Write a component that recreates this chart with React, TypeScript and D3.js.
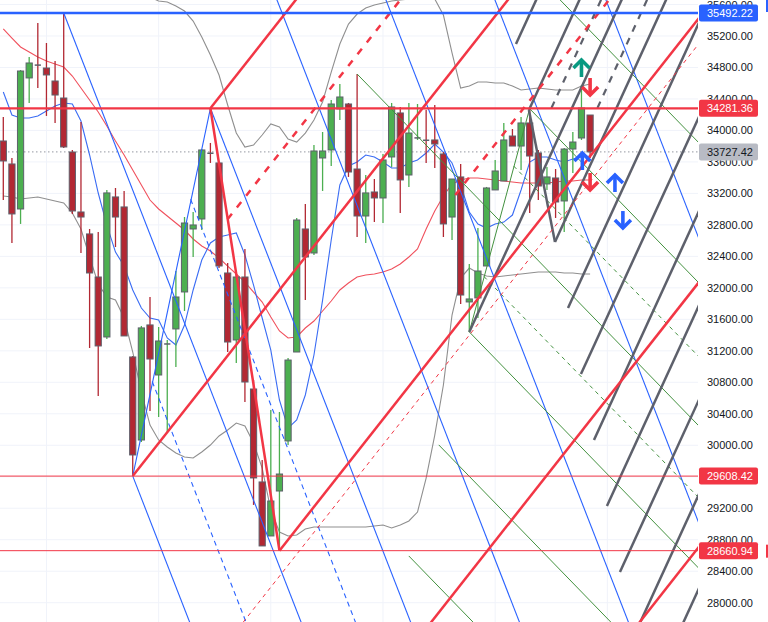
import React from 'react';
import * as d3 from 'd3';

// ---------- candle data (bar index 0..68) ----------
const opens = [33866,33574,33002,34667,34830,34793,34628,34412,33726,32964,32685,32138,31376,33155,33028,31122,30067,31529,30893,31280,31478,31948,32748,32875,33710,33587,32189,31338,32138,30715,29534,28848,29419,30055,31185,32748,32443,33650,33752,34273,34336,33510,32913,33218,33142,33663,34222,33434,33895,33875,33879,33701,32900,33409,31821,31872,32278,33244,33358,33929,33802,34095,33714,33320,33396,33104,33764,33904,34196];
const highs = [34171,33650,34768,34933,35365,35111,34882,35492.22,33752,34107,32748,32710,33244,33269,33231,31135,31516,31884,31503,31338,32214,32900,32964,33765,33841,33600,32316,32227,32494,30830,29813,30448,30423,31109,32888,33066,33815,33980,34387,34590,34349,34717,33434,33383,33701,34349,34298,34349,34336,34260,34323,33726,33383,33574,32303,32761,33282,33625,34095,34018,34171,34273,33752,33536,33510,33777,33980,34578,34196];
const lows = [33117,32570,32812,34349,34539,34184,34095,33777,32939,32443,31236,30626,31351,32519,31389,29608.42,30042,30436,30359,30156,30995,31706,32392,32736,33587,32253,31185,31045,30550,29242,28721,28848,28660.94,30004,31185,31846,32418,33231,33549,34133,33409,32646,32570,32837,32824,33536,32951,33282,33879,33587,33523,32646,32608,31795,31440,31617,32278,33244,33358,33802,33498,32951,33117,33244,32888,32710,33460,33879,33650];
const closes = [33612,32939,34755,34857,34810,34705,34450,33790,32977,32900,32189,31262,33206,32900,31389,29877,31491,31096,31325,31287,31884,32824,32799,33752,33695,32278,31312,32138,30804,29585,28721,29292,29635,31083,32862,32392,33739,33739,34336,34425,33472,32913,33206,33142,33625,34298,33371,33967,33905,33860,33828,32812,33383,31909,31859,32214,33269,33485,33879,33802,34095,33675,33294,33409,33091,33764,33853,34285,33727.42];

// ---------- indicators ----------
const redMA = [35289,35174,35060,34996,34933,34882,34844,34806,34691,34539,34387,34234,34056,33866,33688,33497,33307,33116,33002,32913,32824,32735,32621,32532,32468,32379,32277,32176,32074,31947,31820,31630,31452,31363,31376,31490,31579,31706,31833,31973,32061,32138,32163,32176,32201,32239,32303,32392,32494,32748,32976,33167,33320,33370,33396,33396,33383,33370,33357,33345,33332,33332,33332,33332,33345,33357,33357,33370,33370];
const blueMA = [34488,34196,34158,34158,34183,34247,34310,34348,34336,34120,33688,33205,32798,32455,32277,31973,31744,31617,31591,31363,31274,31528,31973,32354,32570,32646,32671,32697,32417,32036,31617,31210,30575,30219,30321,30639,31147,31845,32608,33307,33548,33599,33688,33662,33599,33523,33523,33586,33624,33713,33827,33726,33586,33307,32964,32811,32760,32811,32836,32925,33243,33599,33662,33662,33624,33599,33637,33662,33675];
const bandUpper = [36419,36356,36292,36229,36165,36140,36114,36089,36064,36038,36013,35975,35937,35886,35835,35784,35733,35695,35644,35632,35581,35517,35390,35187,34958,34704,34323,33967,33789,33815,33942,34082,34044,33891,33853,33967,34132,34361,34742,35098,35352,35479,35555,35593,35619,35644,35657,35670,35682,35682,35670,35466,34984,34539,34564,34615,34615,34603,34603,34564,34514,34526,34539,34526,34514,34514,34514,34564,34590];
const bandLower = [33167,33154,33129,33141,33154,33129,33103,33078,32951,32748,32392,32049,31884,31845,31617,31185,30677,30257,30067,29978,29902,29851,29838,29914,30003,30118,30194,30283,30245,30029,29711,29177,28898,28847,28860,28936,28962,28962,28962,28962,28962,28962,28962,28975,28987,28949,28987,29038,29152,29584,30130,30766,31655,32125,32252,32189,32150,32138,32150,32163,32176,32189,32201,32201,32201,32189,32189,32176,32176];

// ---------- axis / levels ----------
const priceTicks = [28000,28400,28800,29200,29600,30000,30400,30800,31200,31600,32000,32400,32800,33200,33600,34000,34400,34800,35200,35600];
const gridBars = [5, 18, 31, 44, 57, 70];
const swingHigh = 35492.22;
const resistance = 34281.36;
const lastPrice = 33727.42;
const support = 29608.42;
const swingLow = 28660.94;

// ---------- drawings: [barA, priceA, barB, priceB] ----------
const blueRays = [[15,29608.42,25,26795],[7,35492.22,17,32679],[24,34281.36,34,31468],[29.91,36165,39.91,33352],[42.54,36165,52.54,33352],[55.17,36165,65.17,33352],[68.03,36165,78.03,33352]];
const blueSegments = [[15,29608.42,24,34281.36]];
const blueDashedRays = [[17.26,30810,27.26,27997],[21.71,33125,31.71,30312]];
const redRays = [[24,34281.36,34,35673],[15,29608.42,25,31000],[32,28660.94,42,30053],[46.13,27272,56.13,28664],[70.29,27272,80.29,28664]];
const redSegments = [[24,34281.36,32,28660.94]];
const redDashedThickRays = [[25.99,32872,35.99,34264],[52.38,33180,62.38,34572]];
const redDashedThinRays = [[24.35,27272,34.35,28664]];
const greenRays = [[41,34717,51,33588],[46.99,28594,56.99,27465],[50.46,30005,60.46,28876],[54,31440,64,30311],[60.99,34277,70.99,33148],[64.42,35670,74.42,34541]];
const greenSegments = [[54,31440,60.99,34277]];
const greenDashedRays = [[55.70,32144,65.70,31015],[59.14,33548,69.14,32419]];
const greyRays = [[59.41,35098,69.41,37488],[60.91,34259,70.91,36649],[54,31440,64,33830],[63.93,32582,73.93,34972],[65.44,31744,75.44,34134],[66.94,30905,76.94,33295],[68.45,30067,78.45,32457],[69.95,29228,79.95,31618],[71.46,28390,81.46,30780],[72.97,27551,82.97,29941],[74.47,26713,84.47,29103]];
const greySegments = [[60.91,34259,63.93,32582]];
const greyDashedRays = [[63.52,34285,73.52,36675],[68.85,34285,78.85,36675]];

// ---------- arrow markers: [bar, tipPrice] ----------
const tealUpArrows = [[67,34895]];
const redDownArrows = [[68,34450],[68,33243]];
const blueUpArrows = [[67.1,33713],[70.88,33434]];
const blueDownArrows = [[71.8,32760]];

const W = 768;
const H = 622;
const PLOT_R = 698;
const FONT = '"Liberation Sans", Arial, sans-serif';

export default function App() {
  const x = d3.scaleLinear().domain([0, 68]).range([3.3, 590.1]);
  const y = d3.scaleLinear().domain([28000, 35600]).range([602.7, 4.5]);

  const series = (vals: number[]) =>
    d3.line<number>().x((_, i) => x(i)).y((v) => y(v))(vals) || '';

  const ray = (s: number[]) => {
    const [i1, p1, i2, p2] = s;
    return [x(i1), y(p1), x(i1 + (i2 - i1) * 12), y(p1 + (p2 - p1) * 12)];
  };
  const seg = (s: number[]) => [x(s[0]), y(s[1]), x(s[2]), y(s[3])];

  const drawLines = (
    list: number[][],
    isRay: boolean,
    stroke: string,
    width: number,
    dash?: string,
    key = ''
  ) =>
    list.map((s, k) => {
      const [x1, y1, x2, y2] = isRay ? ray(s) : seg(s);
      return (
        <line
          key={key + k}
          x1={x1}
          y1={y1}
          x2={x2}
          y2={y2}
          stroke={stroke}
          strokeWidth={width}
          strokeDasharray={dash}
          strokeLinecap="butt"
        />
      );
    });

  const arrow = (bar: number, tip: number, up: boolean, color: string, key: string) => {
    const ax = x(bar);
    const ay = y(tip);
    const len = 17;
    const dir = up ? 1 : -1;
    const tail = ay + dir * len;
    const head = ay + dir * 8;
    return (
      <g key={key} stroke={color} strokeWidth={3.6} fill="none" strokeLinecap="butt" strokeLinejoin="miter">
        <line x1={ax} y1={ay + dir * 1.5} x2={ax} y2={tail} />
        <polyline points={`${ax - 8},${head} ${ax},${ay} ${ax + 8},${head}`} />
      </g>
    );
  };

  const idx = d3.range(opens.length);
  const bodyW = 6.2;

  const levelLabel = (p: number, bg: string, fg: string, key: string) => (
    <g key={key}>
      <rect x={699} y={y(p) - 8.5} width={59} height={17} rx={2} fill={bg} />
      <text x={707} y={y(p) + 4} fontSize={11} fontFamily={FONT} fill={fg}>
        {p.toFixed(2)}
      </text>
    </g>
  );

  return (
    <svg
      width={W}
      height={H}
      style={{ position: 'absolute', left: 0, top: 0, background: '#ffffff' }}
    >
      <defs>
        <clipPath id="plot">
          <rect x={0} y={0} width={PLOT_R} height={H} />
        </clipPath>
      </defs>
      <rect x={0} y={0} width={W} height={H} fill="#ffffff" />

      {/* grid */}
      <g clipPath="url(#plot)" stroke="#f0f3fa" strokeWidth={1}>
        {priceTicks.map((t) => (
          <line key={'h' + t} x1={0} x2={PLOT_R} y1={y(t)} y2={y(t)} />
        ))}
        {gridBars.map((b) => (
          <line key={'v' + b} x1={x(b)} x2={x(b)} y1={0} y2={H} />
        ))}
      </g>

      <g clipPath="url(#plot)">
        {/* last price dotted */}
        <line x1={0} x2={PLOT_R} y1={y(lastPrice)} y2={y(lastPrice)} stroke="#9598a1" strokeWidth={1} strokeDasharray="1.5,2.5" />

        {/* indicators */}
        <path d={series(bandUpper)} fill="none" stroke="#8f8f8f" strokeWidth={1.1} />
        <path d={series(bandLower)} fill="none" stroke="#8f8f8f" strokeWidth={1.1} />
        <path d={series(redMA)} fill="none" stroke="#f0515d" strokeWidth={1.1} />
        <path d={series(blueMA)} fill="none" stroke="#3a6cf4" strokeWidth={1.1} />

        {/* candles */}
        {idx.map((i) => {
          const o = opens[i], c = closes[i], h = highs[i], l = lows[i];
          const up = c >= o;
          const cx = x(i);
          const top = y(Math.max(o, c));
          const bot = y(Math.min(o, c));
          const bh = Math.max(1, bot - top);
          return (
            <g key={'c' + i}>
              <line x1={cx} x2={cx} y1={y(h)} y2={y(l)} stroke={up ? '#4caf50' : '#b22833'} strokeWidth={1.3} />
              {bh > 1.6 ? (
                <rect x={cx - bodyW / 2} y={top} width={bodyW} height={bh} fill={up ? '#4caf50' : '#b22833'} stroke="#5d606b" strokeWidth={1} />
              ) : (
                <line x1={cx - bodyW / 2} x2={cx + bodyW / 2} y1={top} y2={top} stroke="#5d606b" strokeWidth={1.5} />
              )}
            </g>
          );
        })}

        {/* drawings */}
        {drawLines(blueRays, true, '#2962ff', 1.1, undefined, 'br')}
        {drawLines(blueSegments, false, '#2962ff', 1.1, undefined, 'bs')}
        {drawLines(blueDashedRays, true, '#2962ff', 1.1, '5,4', 'bd')}
        {drawLines(greenRays, true, '#43913f', 1, undefined, 'gr')}
        {drawLines(greenSegments, false, '#43913f', 1, undefined, 'gs')}
        {drawLines(greenDashedRays, true, '#43913f', 1, '4,4', 'gd')}
        {drawLines(greyRays, true, '#5d606b', 2.5, undefined, 'yr')}
        {drawLines(greySegments, false, '#5d606b', 2.5, undefined, 'ys')}
        {drawLines(greyDashedRays, true, '#5d606b', 2.2, '7,7', 'yd')}
        {drawLines(redRays, true, '#f23645', 2.5, undefined, 'rr')}
        {drawLines(redSegments, false, '#f23645', 2.5, undefined, 'rs')}
        {drawLines(redDashedThickRays, true, '#f23645', 2.5, '7,8', 'rd')}
        {drawLines(redDashedThinRays, true, '#f23645', 1, '4,4', 'rt')}

        {/* horizontal levels */}
        <line x1={0} x2={PLOT_R} y1={y(swingHigh)} y2={y(swingHigh)} stroke="#2962ff" strokeWidth={2.5} />
        <line x1={0} x2={PLOT_R} y1={y(resistance)} y2={y(resistance)} stroke="#f23645" strokeWidth={2.2} />
        <line x1={0} x2={PLOT_R} y1={y(support)} y2={y(support)} stroke="#f23645" strokeWidth={1} />
        <line x1={0} x2={PLOT_R} y1={y(swingLow)} y2={y(swingLow)} stroke="#f23645" strokeWidth={1} />

        {/* arrows */}
        {tealUpArrows.map((a, k) => arrow(a[0], a[1], true, '#089981', 'ta' + k))}
        {redDownArrows.map((a, k) => arrow(a[0], a[1], false, '#f23645', 'ra' + k))}
        {blueUpArrows.map((a, k) => arrow(a[0], a[1], true, '#2962ff', 'ba' + k))}
        {blueDownArrows.map((a, k) => arrow(a[0], a[1], false, '#2962ff', 'bda' + k))}
      </g>

      {/* price axis */}
      <g>
        {priceTicks.map((t) => (
          <text key={'t' + t} x={707} y={y(t) + 4} fontSize={11} fontFamily={FONT} fill="#131722">
            {t.toFixed(2)}
          </text>
        ))}
        {levelLabel(swingHigh, '#2962ff', '#ffffff', 'l1')}
        {levelLabel(resistance, '#f23645', '#ffffff', 'l2')}
        {levelLabel(lastPrice, '#b8bbc4', '#131722', 'l3')}
        {levelLabel(support, '#f23645', '#ffffff', 'l4')}
        {levelLabel(swingLow, '#f23645', '#ffffff', 'l5')}
        <rect x={766} y={y(swingHigh) - 13} width={2} height={12} fill="#2962ff" />
        <rect x={766} y={y(swingLow) - 6} width={2} height={13} fill="#f23645" />
      </g>
    </svg>
  );
}
